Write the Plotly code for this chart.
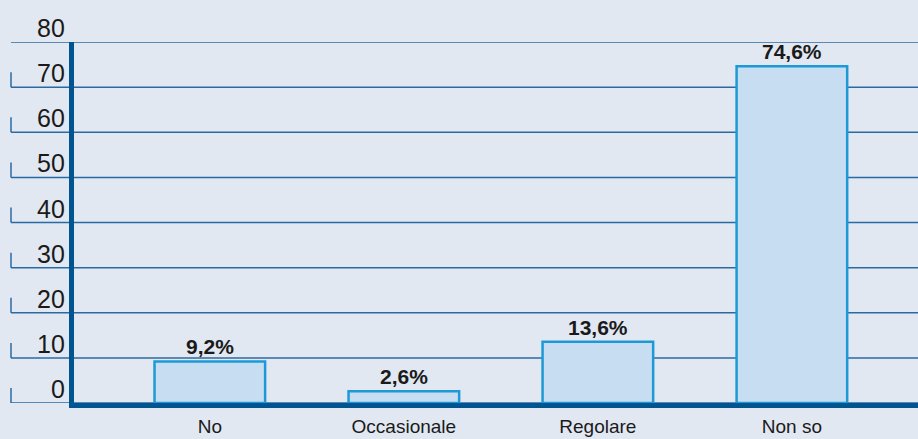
import plotly.graph_objects as go

categories = ["No", "Occasionale", "Regolare", "Non so"]
values = [9.2, 2.6, 13.6, 74.6]
value_labels = ["9,2%", "2,6%", "13,6%", "74,6%"]
y_ticks = [0, 10, 20, 30, 40, 50, 60, 70, 80]

W, H = 918, 439
ML, MR, MT, MB = 74, 0, 42, 36
plot_w = W - ML - MR

BG = "#e1e8f2"
GRID = "#2a6aa3"
AXIS = "#00548f"
BAR_FILL = "#c7ddf1"
BAR_LINE = "#1d9ad6"
FONT = "Liberation Sans, Arial, sans-serif"

fig = go.Figure()
fig.add_trace(go.Bar(
    x=categories, y=values, width=0.57,
    marker=dict(color=BAR_FILL, line=dict(color=BAR_LINE, width=2.5)),
    hoverinfo="skip",
))

shapes = []
annotations = []
x_left = (11 - ML) / plot_w
x_lab = (67 - ML) / plot_w
for t in y_ticks:
    shapes.append(dict(type="line", xref="paper", yref="y", x0=x_left, x1=1, y0=t, y1=t,
                       line=dict(color=GRID, width=1.5), layer="below"))
    shapes.append(dict(type="line", xref="paper", yref="y", x0=x_left, x1=x_left, y0=t, y1=t + 3.3,
                       line=dict(color=GRID, width=1.5), layer="below"))
    annotations.append(dict(x=x_lab, y=t, xref="paper", yref="y", text=str(t), showarrow=False,
                            xanchor="right", yanchor="bottom", yshift=-2,
                            font=dict(family=FONT, size=25, color="#1a1a1a")))

for c, v, lab in zip(categories, values, value_labels):
    annotations.append(dict(x=c, y=v, xref="x", yref="y", text="<b>" + lab + "</b>", showarrow=False,
                            xanchor="center", yanchor="bottom", yshift=1,
                            font=dict(family=FONT, size=21, color="#1a1a1a")))

fig.update_layout(
    width=W, height=H,
    margin=dict(l=ML, r=MR, t=MT, b=MB),
    paper_bgcolor=BG, plot_bgcolor=BG,
    showlegend=False,
    shapes=shapes, annotations=annotations,
    xaxis=dict(range=[-0.70, 3.65], showgrid=False, zeroline=False,
               showline=True, linecolor=AXIS, linewidth=5,
               ticks="", ticklabelstandoff=2,
               tickfont=dict(family=FONT, size=19, color="#1a1a1a")),
    yaxis=dict(range=[0, 80], showgrid=False, zeroline=False,
               showline=True, linecolor=AXIS, linewidth=5,
               showticklabels=False, ticks=""),
)

fig.write_html("out.html", config={"displayModeBar": False},
               post_script="document.body.style.margin='0';document.body.style.overflow='hidden';document.body.style.background='" + BG + "';")
